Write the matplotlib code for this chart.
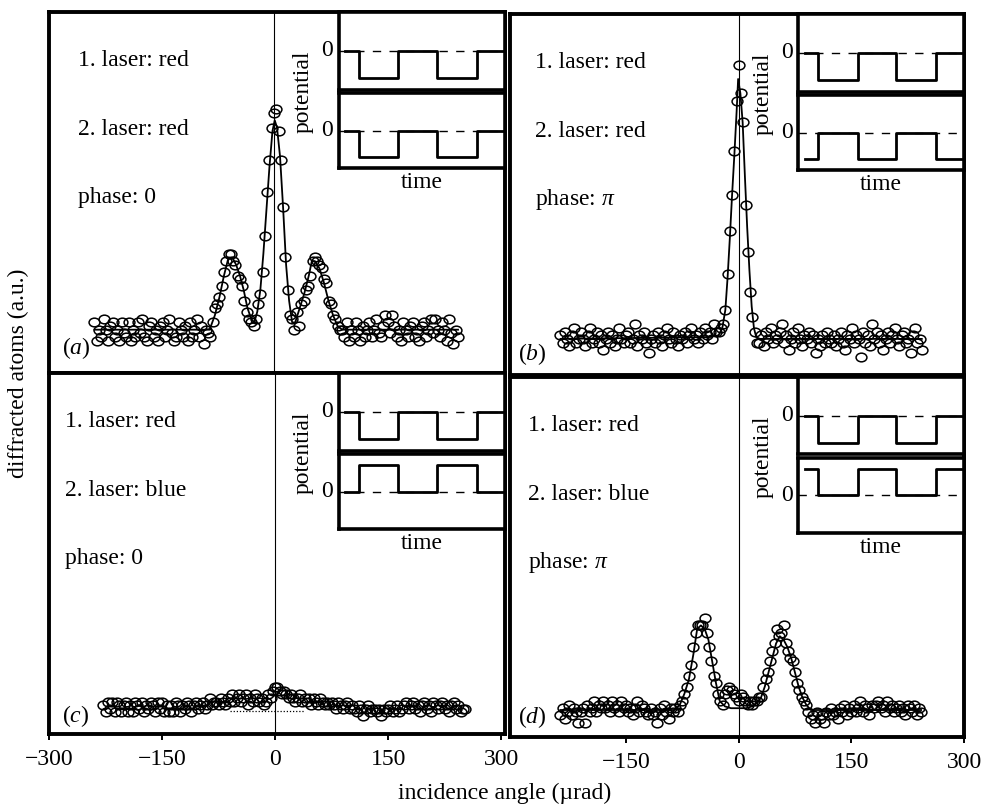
"""
Atom diffraction from two pulsed standing light waves - four cases (a)-(d).
"""

import numpy as np
import matplotlib
matplotlib.use("Agg")
import matplotlib.pyplot as plt
import matplotlib.transforms as mtransforms
from matplotlib.path import Path

plt.rcParams["font.family"] = ["Liberation Serif", "DejaVu Serif"]
plt.rcParams["mathtext.fontset"] = "custom"
plt.rcParams["mathtext.rm"] = "Liberation Serif"
plt.rcParams["mathtext.it"] = "Liberation Serif:italic"

# ── data (angle in µrad, signal in a.u.) ─────────────────────────────────────
angle_abd = np.arange(-237, 244, 3)
angle_c = np.arange(-228, 253, 3)

signal_a = [
    14, 9, 12, 10, 15, 12, 9, 13, 14, 10,       # -237
    12, 9, 14, 11, 10, 14, 9, 12, 10, 14,       # -207
    11, 15, 10, 9, 13, 14, 10, 12, 9, 13,       # -177
    14, 10, 12, 15, 11, 9, 10, 14, 12, 10,      # -147
    13, 9, 14, 10, 12, 15, 10, 13, 8, 12,       # -117
    11, 10, 14, 18, 19, 21, 24, 28, 31, 33,     # -87
    33, 31, 30, 27, 26, 24, 20, 17, 15, 14,     # -57
    13, 15, 19, 22, 28, 38, 50, 59, 68, 72,     # -27
    73, 67, 59, 46, 32, 23, 16, 15, 12, 17,     # 3
    13, 19, 20, 23, 24, 27, 31, 32, 31, 30,     # 33
    29, 26, 25, 20, 19, 16, 15, 13, 12, 12,     # 63
    10, 14, 9, 12, 10, 14, 12, 9, 13, 10,       # 93
    12, 14, 10, 12, 15, 11, 10, 13, 16, 14,     # 123
    11, 16, 13, 10, 12, 9, 14, 12, 10, 13,      # 153
    14, 10, 12, 9, 13, 14, 10, 12, 15, 11,      # 183
    15, 12, 10, 14, 12, 9, 15, 11, 8, 12,       # 213
    10,
]
signal_b = [
    11, 9, 12, 10, 8, 11, 13, 9, 10, 12,
    10, 8, 11, 13, 9, 10, 12, 9, 11, 7,
    10, 12, 9, 11, 8, 10, 13, 10, 9, 11,
    12, 9, 10, 14, 8, 11, 10, 12, 9, 6,
    10, 11, 9, 12, 10, 8, 11, 13, 10, 9,
    12, 10, 8, 11, 10, 12, 9, 11, 13, 10,
    11, 9, 12, 10, 13, 11, 12, 10, 14, 12,
    12, 13, 14, 18, 28, 40, 50, 62, 76, 86,
    78, 70, 47, 34, 23, 16, 12, 9, 9, 11,
    8, 12, 10, 13, 9, 11, 10, 12, 14, 9,
    11, 7, 10, 12, 9, 13, 10, 8, 11, 10,
    12, 9, 11, 6, 10, 8, 11, 9, 12, 10,
    9, 11, 8, 10, 12, 9, 7, 11, 10, 13,
    9, 11, 10, 5, 12, 9, 11, 8, 14, 10,
    12, 9, 11, 7, 10, 12, 9, 11, 13, 10,
    8, 11, 12, 9, 10, 6, 11, 13, 9, 10,
    7,
]
signal_c = [
    8, 6, 9, 7, 9, 6, 9, 8, 6, 8,               # -228
    9, 6, 8, 6, 9, 8, 7, 9, 6, 8,
    7, 9, 8, 6, 9, 7, 9, 6, 8, 6,
    8, 6, 9, 8, 6, 8, 7, 9, 8, 6,
    8, 9, 7, 8, 9, 7, 8, 10, 8, 9,
    9, 8, 10, 9, 8, 10, 9, 11, 9, 10,
    11, 9, 10, 11, 8, 10, 9, 11, 10, 9,
    10, 8, 9, 11, 10, 12, 13, 13, 12, 11,       # -18
    12, 11, 10, 11, 10, 9, 10, 11, 9, 10,
    9, 10, 8, 10, 9, 8, 10, 9, 8, 9,
    8, 9, 8, 7, 9, 8, 7, 8, 9, 7,
    8, 7, 6, 8, 7, 5, 7, 8, 6, 7,
    7, 6, 7, 5, 7, 6, 7, 8, 6, 7,
    8, 6, 7, 8, 9, 7, 8, 9, 7, 8,
    6, 8, 9, 7, 8, 6, 9, 8, 7, 8,
    9, 7, 8, 6, 8, 9, 7, 8, 6, 7,
    7,
]
signal_d = [
    6, 8, 5, 7, 9, 6, 8, 7, 4, 7,
    8, 4, 9, 7, 8, 10, 7, 9, 8, 10,
    8, 9, 7, 10, 8, 9, 7, 10, 8, 9,
    7, 8, 6, 8, 10, 7, 9, 8, 7, 6,
    8, 6, 7, 4, 8, 6, 9, 7, 5, 8,
    7, 8, 7, 9, 10, 12, 14, 17, 20, 25,
    29, 31, 31, 31, 33, 29, 25, 21, 17, 15,
    12, 10, 9, 12, 13, 14, 13, 12, 11, 10,
    12, 11, 10, 9, 10, 9, 10, 10, 11, 11,
    14, 16, 18, 21, 24, 26, 30, 28, 29, 31,
    26, 24, 22, 21, 18, 15, 13, 11, 10, 9,
    7, 5, 6, 4, 7, 5, 6, 4, 7, 6,
    8, 6, 7, 5, 8, 7, 9, 6, 8, 7,
    9, 7, 8, 10, 7, 9, 8, 6, 9, 8,
    9, 10, 8, 9, 7, 10, 8, 9, 7, 8,
    9, 7, 8, 6, 9, 8, 7, 9, 6, 8,
    7,
]

fit_a_x = [-237, -85, -78, -72, -66, -60, -55, -50, -45, -40,
           -35, -30, -26, -22, -18, -14, -10, -6, -2, 1,
           4, 8, 12, 16, 20, 24, 28, 34, 40, 46,
           50, 54, 60, 66, 72, 78, 84, 90, 243]
fit_a_y = [12, 12, 16, 21, 27, 32, 32, 30, 27, 23,
           18, 15, 14, 17, 23, 33, 45, 57, 67, 70,
           68, 60, 46, 30, 20, 14, 14, 18, 22, 27,
           31, 31, 29, 25, 20, 16, 13, 12, 12]
fit_b_x = [-237, -40, -27, -22, -18, -15, -12, -9, -6, -3, -1,
           2, 5, 8, 11, 14, 17, 20, 23, 28, 243]
fit_b_y = [10, 10.5, 11, 13, 18, 27, 38, 50, 61, 73, 82,
           78, 70, 55, 41, 29, 19, 13, 10.5, 10, 10]
fit_c_x = [-60, 40]
fit_c_y = [6.5, 6.5]
fit_d_x = [-237, -85, -78, -72, -66, -60, -55, -50, -45, -40,
           -35, -30, -25, -18, -10, 0, 10, 18, 25, 30,
           35, 40, 45, 50, 55, 60, 65, 70, 75, 80,
           85, 90, 96, 243]
fit_d_y = [7.5, 7.5, 9, 12, 16, 23, 30, 31, 30, 27,
           21, 15, 10, 8.5, 8, 8, 8, 8.5, 9.5, 11,
           14, 18, 22, 26, 28, 27, 25, 22, 18, 14,
           11, 9, 7.5, 7.5]

panel_tags = ["a", "b", "c", "d"]
laser_1 = ["red", "red", "red", "red"]
laser_2 = ["red", "red", "blue", "blue"]
phases = ["0", r"$\pi$", "0", r"$\pi$"]

# square waves of the two laser pulses (level per time slot)
wave_time = [0.04, 0.12, 0.36, 0.59, 0.83, 0.99]
wave_1 = [[0, -1, 0, -1, 0]] * 4
wave_2 = [[0, -1, 0, -1, 0], [-1, 0, -1, 0, -1],
          [0, 1, 0, 1, 0], [1, 0, 1, 0, 1]]

x_ticks_left = [-300, -150, 0, 150, 300]
x_ticks_right = [-150, 0, 150, 300]

# ── layout ───────────────────────────────────────────────────────────────────
W, H = 985, 806
FS = 17


def px_rect(l, t, r, b):
    return [l / W, 1 - b / H, (r - l) / W, (b - t) / H]


rects = [px_rect(49, 12, 505, 373), px_rect(510, 14, 964, 375),
         px_rect(49, 373, 505, 734), px_rect(510, 377, 964, 737)]
xlims = [(-297, 305), (-304, 299), (-297, 305), (-304, 299)]
text_x = [0.064, 0.055, 0.035, 0.04]
tag_pos = [(0.028, 0.07), (0.018, 0.057), (0.028, 0.05), (0.018, 0.055)]

angles = [angle_abd, angle_abd, angle_c, angle_abd]
signals = [signal_a, signal_b, signal_c, signal_d]
fits = [(fit_a_x, fit_a_y), (fit_b_x, fit_b_y), (fit_c_x, fit_c_y), (fit_d_x, fit_d_y)]

circle = Path.unit_circle()
oval = Path(circle.vertices * np.array([1.0, 0.8]), circle.codes)

fig = plt.figure(figsize=(W / 100, H / 100), dpi=100)

for i in range(4):
    ax = fig.add_axes(rects[i])
    ax.set_xlim(*xlims[i])
    ax.set_ylim(0, 100)
    for sp in ax.spines.values():
        sp.set_linewidth(2.8)
    ax.set_yticks([])
    if i < 2:
        ax.set_xticks([])
    else:
        ax.set_xticks(x_ticks_left if i == 2 else x_ticks_right)
        ax.set_xticklabels([f"{t:d}".replace("-", "\u2212") for t in ax.get_xticks()])
        ax.tick_params(axis="x", direction="out", length=4, width=1.4,
                       labelsize=FS, pad=7)

    ax.axvline(0, color="black", lw=0.8)

    fx, fy = fits[i]
    if i == 2:
        ax.plot(fx, fy, color="black", lw=0.9, ls=(0, (1, 1.5)))
    else:
        ax.plot(fx, fy, color="black", lw=1.3)
    ax.plot(angles[i], signals[i], ls="none", marker=oval, ms=7.8,
            mfc="none", mec="black", mew=1.1)

    ax.text(text_x[i], 0.865, f"1. laser: {laser_1[i]}", transform=ax.transAxes,
            fontsize=FS, va="center", ha="left")
    ax.text(text_x[i], 0.675, f"2. laser: {laser_2[i]}", transform=ax.transAxes,
            fontsize=FS, va="center", ha="left")
    ax.text(text_x[i], 0.485, f"phase: {phases[i]}", transform=ax.transAxes,
            fontsize=FS, va="center", ha="left")
    ax.text(tag_pos[i][0], tag_pos[i][1], f"(${panel_tags[i]}$)",
            transform=ax.transAxes, fontsize=FS, va="center", ha="left")

    # inset: pulse sequence
    boxes = [ax.inset_axes([0.635, 0.785, 0.365, 0.215]),
             ax.inset_axes([0.635, 0.568, 0.365, 0.207])]
    for box, levels in zip(boxes, [wave_1[i], wave_2[i]]):
        box.set_xlim(0, 1)
        box.set_ylim(-1.43, 1.43)
        box.set_xticks([])
        box.set_yticks([])
        box.set_facecolor("white")
        for sp in box.spines.values():
            sp.set_linewidth(2.6)
        box.plot([0, 1], [0, 0], color="black", lw=1.0, ls=(0, (6, 6)))
        box.step(wave_time, list(levels) + [levels[-1]], where="post",
                 color="black", lw=2.0)
        trans = mtransforms.blended_transform_factory(box.transAxes, box.transData)
        box.text(-0.035, 0, "0", transform=trans, fontsize=FS,
                 ha="right", va="center")
    boxes[1].text(-0.21, 1.02, "potential", transform=boxes[1].transAxes,
                  rotation=90, fontsize=FS, ha="center", va="center")
    boxes[1].text(0.5, -0.2, "time", transform=boxes[1].transAxes,
                  fontsize=FS, ha="center", va="center")

fig.text(505 / W, 1 - 793 / H, "incidence angle (\u00b5rad)", fontsize=FS,
         ha="center", va="center")
fig.text(18 / W, 1 - 373 / H, "diffracted atoms (a.u.)", fontsize=FS,
         rotation=90, ha="center", va="center")

fig.savefig("out.png", dpi=100)
